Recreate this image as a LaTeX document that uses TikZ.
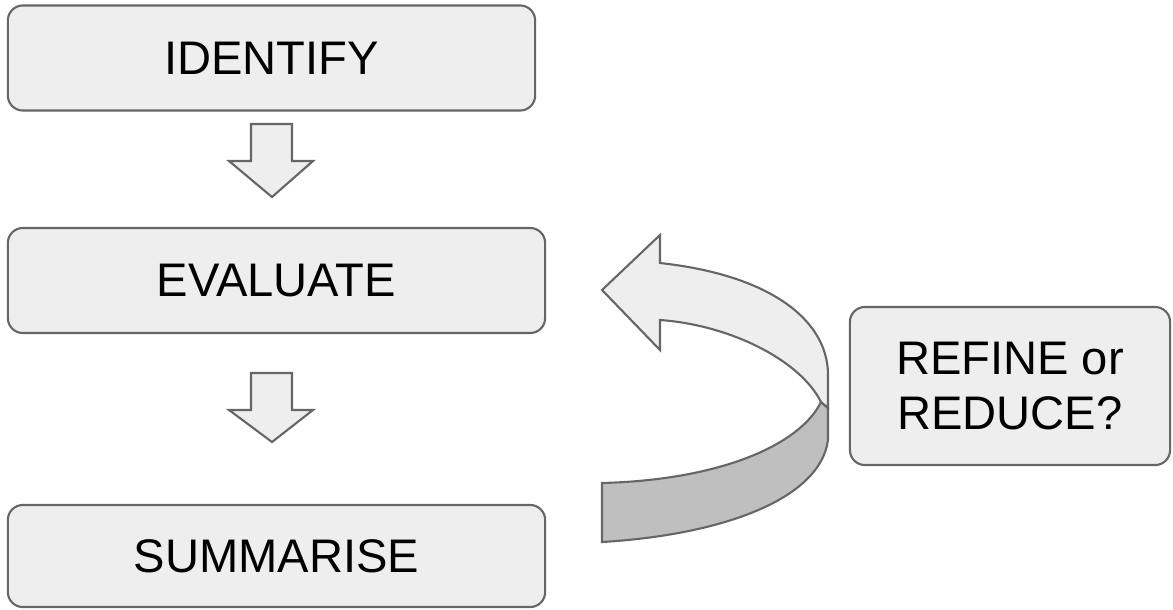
\documentclass[tikz,border=0pt]{standalone}
\usepackage{fontspec}
\setmainfont{Liberation Sans}
\definecolor{boxfill}{HTML}{EEEEEE}
\definecolor{ribbondark}{HTML}{BFBFBF}
\definecolor{edge}{HTML}{666666}
\tikzset{
  stagebox/.style={draw=edge, fill=boxfill, line width=0.6pt, rounded corners=0.15cm,
    font=\fontsize{13.4}{15.6}\selectfont, align=center, inner sep=0pt},
  blockarrow/.style={draw=edge, fill=boxfill, line width=0.6pt, line join=miter},
}
\begin{document}
\begin{tikzpicture}[x=0.01cm, y=-0.01cm]
            \useasboundingbox (0, 0) rectangle (1173, 609);
            % stages
            \node[stagebox, minimum width=5.27cm, minimum height=1.05cm] (identify) at (271.5, 58) {IDENTIFY};
            \node[stagebox, minimum width=5.37cm, minimum height=1.05cm] (evaluate) at (276.5, 280.5) {EVALUATE};
            \node[stagebox, minimum width=5.37cm, minimum height=1.02cm] (summarise) at (276.5, 556) {SUMMARISE};
            \node[stagebox, minimum width=3.20cm, minimum height=1.58cm] (refine) at (1010, 386) {REFINE or\\REDUCE?};
            % down arrows
            \filldraw[blockarrow] (251, 124) -- (292, 124) -- (292, 161) -- (313, 161) -- (272, 197) -- (229, 161) -- (251, 161) -- cycle;
            \filldraw[blockarrow] (251, 373) -- (292, 373) -- (292, 410) -- (313, 410) -- (272, 442) -- (229, 410) -- (251, 410) -- cycle;
            % curved ribbon arrow, back part
            \filldraw[blockarrow, fill=ribbondark] (821, 402) -- (828, 408) -- (828, 440) .. controls (820, 500) and (720, 535) .. (602, 542) -- (602, 483) .. controls (720, 480) and (800, 445) .. (821, 402) -- cycle;
            % curved ribbon arrow, front part
            \filldraw[blockarrow] (602, 290) -- (660, 235) -- (660, 263) .. controls (770, 275) and (828, 320) .. (828, 375) -- (828, 408) -- (821, 402) .. controls (800, 360) and (730, 325) .. (660, 320) -- (660, 350) -- cycle;
        \end{tikzpicture}
\end{document}
